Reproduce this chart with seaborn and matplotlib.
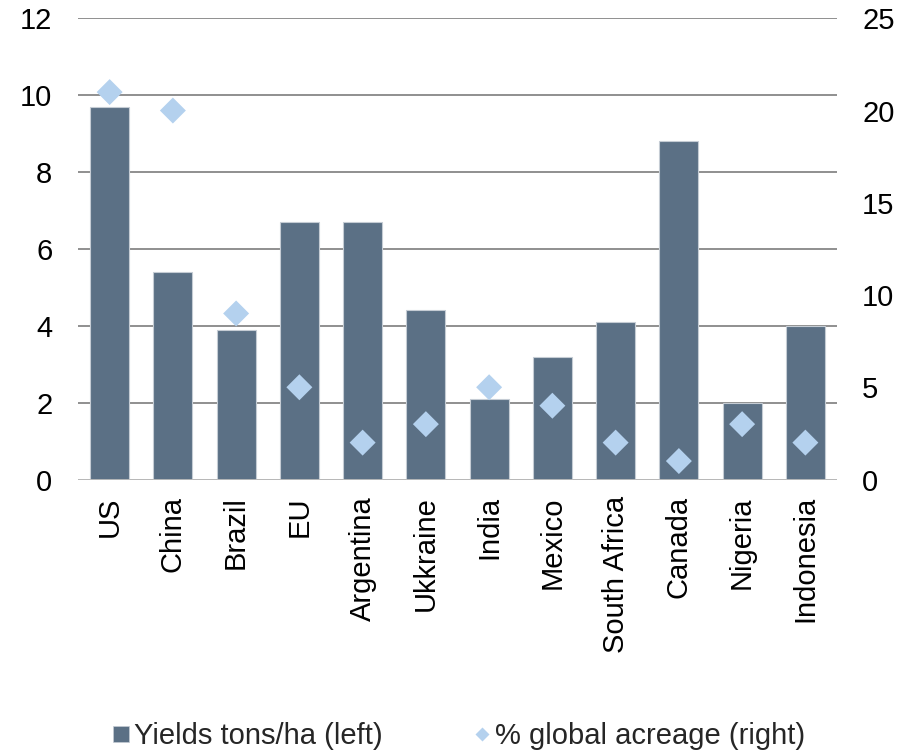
import numpy as np
import pandas as pd
import matplotlib
matplotlib.use("Agg")
import matplotlib.pyplot as plt
from matplotlib.lines import Line2D
import seaborn as sns

# Maize yields and share of global acreage by producer
countries = ["US", "China", "Brazil", "EU", "Argentina", "Ukkraine", "India",
             "Mexico", "South Africa", "Canada", "Nigeria", "Indonesia"]
yields_t_ha = [9.7, 5.4, 3.9, 6.7, 6.7, 4.4, 2.1, 3.2, 4.1, 8.8, 2.0, 4.0]
acreage_pct = [21, 20, 9, 5, 2, 3, 5, 4, 2, 1, 3, 2]

left_ticks = [0, 2, 4, 6, 8, 10, 12]
right_ticks = [0, 5, 10, 15, 20, 25]

bar_label = "Yields tons/ha (left)"
point_label = "% global acreage (right)"

BAR_COLOR = "#5B7085"
POINT_COLOR = "#B4D1EE"
GRID_COLOR = "#878787"
FONT = 21

sns.set_theme(style="white")
plt.rcParams["font.family"] = ["Liberation Sans", "DejaVu Sans"]

df = pd.DataFrame({"country": countries, "yields": yields_t_ha,
                   "acreage": acreage_pct})
df["pos"] = np.arange(len(df))

fig = plt.figure(figsize=(9.16, 7.54), dpi=100)
ax = fig.add_axes([78 / 916, 1 - 479.5 / 754, (837 - 78) / 916, (479.5 - 18.3) / 754])

sns.barplot(data=df, x="country", y="yields", color=BAR_COLOR, saturation=1,
            width=0.62, edgecolor="#C5CCD4", linewidth=0.8, ax=ax, zorder=3)

ax.set_ylim(left_ticks[0], left_ticks[-1])
ax.set_yticks(left_ticks)
ax.set_xlim(-0.5, len(countries) - 0.5)
ax.set_xlabel("")
ax.set_ylabel("")
ax.yaxis.grid(True, color=GRID_COLOR, linewidth=1.3, zorder=0)
ax.set_axisbelow(True)
ax.axhline(0, color="#BDBDBD", linewidth=2, zorder=4)
for s in ax.spines.values():
    s.set_visible(False)
ax.tick_params(axis="y", length=0, pad=18.5, labelsize=FONT, labelcolor="black")
ax.tick_params(axis="x", length=0, pad=12, labelsize=FONT, labelcolor="black",
               labelrotation=90)

ax2 = ax.twinx()
sns.scatterplot(data=df, x="pos", y="acreage", marker="D", s=175,
                color=POINT_COLOR, edgecolor="none", ax=ax2, zorder=5,
                legend=False)
ax2.set_ylim(right_ticks[0], right_ticks[-1])
ax2.set_yticks(right_ticks)
ax2.set_ylabel("")
ax2.grid(False)
for s in ax2.spines.values():
    s.set_visible(False)
ax2.tick_params(axis="y", length=0, pad=18, labelsize=FONT, labelcolor="black")

handles = [
    Line2D([], [], linestyle="none", marker="s", markersize=11.2,
           markerfacecolor=BAR_COLOR, markeredgecolor="#C5CCD4",
           markeredgewidth=0.5, label=bar_label),
    Line2D([], [], linestyle="none", marker="D", markersize=7.2,
           markerfacecolor=POINT_COLOR, markeredgecolor="none",
           label=point_label),
]
fig.legend(handles=handles, loc="center", bbox_to_anchor=(0.5006, 1 - 736 / 754),
           ncol=2, frameon=False, fontsize=FONT, handlelength=0.6,
           handletextpad=0.15, columnspacing=3.1, borderpad=0, borderaxespad=0)

fig.savefig("out.png", dpi=100, facecolor="white")
